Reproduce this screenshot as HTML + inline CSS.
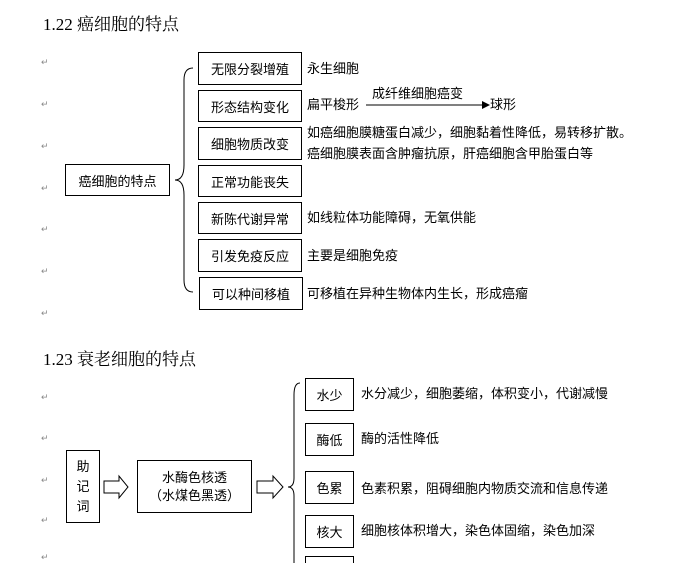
<!DOCTYPE html>
<html><head><meta charset="utf-8"><style>
html{overflow:hidden;height:563px}
body{margin:0;width:683px;height:563px;background:#fff;position:relative;overflow:hidden;font-family:"Liberation Sans","Noto Sans CJK SC",sans-serif;color:#000}
.a{position:absolute;white-space:nowrap;font-size:13px;line-height:15px}
.b{position:absolute;border:1px solid #000;box-sizing:border-box;font-size:13px;display:flex;align-items:center;justify-content:center;background:#fff}
.p{position:absolute;font-size:9px;color:#888}
.t{position:absolute;font-size:17px;font-family:"Liberation Serif","Noto Serif CJK SC",serif;white-space:nowrap}
</style></head><body>
<div class="t" style="left:43px;top:10px">1.22 癌细胞的特点</div>
<div class="t" style="left:43px;top:345px">1.23 衰老细胞的特点</div>
<div class="p" style="left:41px;top:57px">↵</div>
<div class="p" style="left:41px;top:99px">↵</div>
<div class="p" style="left:41px;top:141px">↵</div>
<div class="p" style="left:41px;top:183px">↵</div>
<div class="p" style="left:41px;top:224px">↵</div>
<div class="p" style="left:41px;top:266px">↵</div>
<div class="p" style="left:41px;top:308px">↵</div>
<div class="p" style="left:41px;top:392px">↵</div>
<div class="p" style="left:41px;top:433px">↵</div>
<div class="p" style="left:41px;top:475px">↵</div>
<div class="p" style="left:41px;top:515px">↵</div>
<div class="p" style="left:41px;top:552px">↵</div>
<svg width="683" height="563" style="position:absolute;left:0;top:0">
<path d="M193 68 Q184 68 184 80 L184 165 Q184 180 175 180 Q184 180 184 195 L184 280 Q184 292 193 292" fill="none" stroke="#000" stroke-width="1"/>
<line x1="366" y1="105" x2="482" y2="105" stroke="#000"/>
<polygon points="482,101 490,105 482,109" fill="#000"/>
<path d="M300 383 Q294 383 294 395 L294 478 Q294 487 288 487 Q294 487 294 496 L294 563" fill="none" stroke="#000"/>
<polygon points="104,481 119,481 119,476 128,487 119,498 119,493 104,493" fill="#fff" stroke="#000"/>
<polygon points="257,481 273,481 273,476 283,487 273,498 273,493 257,493" fill="#fff" stroke="#000"/>
</svg>
<div class="b" style="left:65px;top:164px;width:105px;height:32px">癌细胞的特点</div>
<div class="b" style="left:198px;top:52px;width:104px;height:33px">无限分裂增殖</div>
<div class="b" style="left:198px;top:90px;width:104px;height:32px">形态结构变化</div>
<div class="b" style="left:198px;top:127px;width:104px;height:33px">细胞物质改变</div>
<div class="b" style="left:198px;top:165px;width:104px;height:32px">正常功能丧失</div>
<div class="b" style="left:198px;top:202px;width:104px;height:32px">新陈代谢异常</div>
<div class="b" style="left:198px;top:239px;width:104px;height:33px">引发免疫反应</div>
<div class="b" style="left:199px;top:277px;width:104px;height:33px">可以种间移植</div>
<div class="a" style="left:307px;top:61px">永生细胞</div>
<div class="a" style="left:307px;top:97px">扁平梭形</div>
<div class="a" style="left:372px;top:86px">成纤维细胞癌变</div>
<div class="a" style="left:490px;top:97px">球形</div>
<div class="a" style="left:307px;top:125px">如癌细胞膜糖蛋白减少，细胞黏着性降低，易转移扩散。</div>
<div class="a" style="left:307px;top:146px">癌细胞膜表面含肿瘤抗原，肝癌细胞含甲胎蛋白等</div>
<div class="a" style="left:307px;top:210px">如线粒体功能障碍，无氧供能</div>
<div class="a" style="left:307px;top:248px">主要是细胞免疫</div>
<div class="a" style="left:307px;top:286px">可移植在异种生物体内生长，形成癌瘤</div>
<div class="b" style="left:66px;top:450px;width:34px;height:73px;flex-direction:column;line-height:20px">助<br>记<br>词</div>
<div class="b" style="left:137px;top:460px;width:115px;height:53px;flex-direction:column;line-height:18px"><span>水酶色核透</span><span>（水煤色黑透）</span></div>
<div class="b" style="left:305px;top:378px;width:49px;height:33px">水少</div>
<div class="b" style="left:305px;top:423px;width:49px;height:33px">酶低</div>
<div class="b" style="left:305px;top:471px;width:49px;height:33px">色累</div>
<div class="b" style="left:305px;top:515px;width:49px;height:33px">核大</div>
<div class="b" style="left:305px;top:556px;width:49px;height:33px"></div>
<div class="a" style="left:361px;top:386px">水分减少，细胞萎缩，体积变小，代谢减慢</div>
<div class="a" style="left:361px;top:431px">酶的活性降低</div>
<div class="a" style="left:361px;top:481px">色素积累，阻碍细胞内物质交流和信息传递</div>
<div class="a" style="left:361px;top:523px">细胞核体积增大，染色体固缩，染色加深</div>
</body></html>
